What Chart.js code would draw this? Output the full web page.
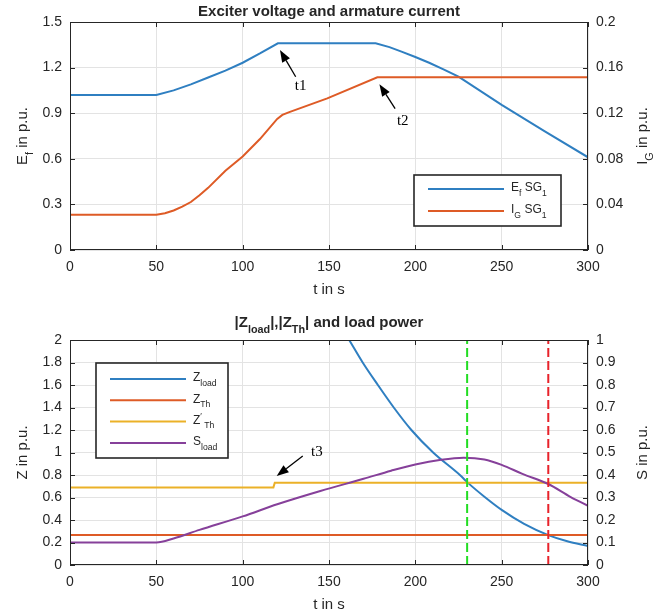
<!DOCTYPE html>
<html>
<head>
<meta charset="utf-8">
<script src="https://cdn.jsdelivr.net/npm/chart.js@4/dist/chart.umd.min.js"></script>
<style>
body { margin: 0; background: #fff; }
#wrap { position: relative; width: 665px; height: 614px; }
canvas { position: absolute; left: 0; }
</style>
</head>
<body>
<div id="wrap">
<canvas id="top" width="665" height="300" style="top:0"></canvas>
<canvas id="bot" width="665" height="314" style="top:300px"></canvas>
</div>
<script>
// ---- data ----
// upper plot: exciter voltage (left axis) and armature current (right axis)
const T_EF = [0, 50, 60, 70, 80, 90, 100, 110, 120.4, 177, 185, 192, 200, 208, 216, 225, 250, 275, 300];
const EF   = [1.02, 1.02, 1.05, 1.09, 1.135, 1.18, 1.232, 1.293, 1.36, 1.36, 1.335, 1.305, 1.27, 1.232, 1.19, 1.14, 0.955, 0.78, 0.61];
const T_IG = [0, 50, 55, 60, 65, 70, 75, 80, 90, 100, 110, 120, 123, 127, 149, 178, 300];
const IG   = [0.031, 0.031, 0.0322, 0.0347, 0.038, 0.0421, 0.048, 0.0545, 0.0695, 0.0821, 0.0973, 0.115, 0.1185, 0.121, 0.133, 0.1515, 0.1515];

// lower plot: impedances (left axis) and load power (right axis)
const T_ZLOAD = [161.7, 169.5, 178.3, 187.5, 197.7, 210.3, 225.8, 230.5, 240, 250, 263, 277, 288, 300];
const ZLOAD   = [2.0, 1.8, 1.6, 1.4, 1.2, 1.0, 0.8, 0.73, 0.607, 0.49, 0.366, 0.266, 0.211, 0.169];
const T_ZTH = [0, 300];
const ZTH   = [0.267, 0.267];
const T_ZTH2 = [0, 117.8, 118.6, 300];
const ZTH2   = [0.69, 0.69, 0.732, 0.732];
const T_SLOAD = [0, 50, 60, 75, 100, 120, 145, 170, 186, 200, 215, 228, 240, 250, 262, 277, 290, 300];
const SLOAD   = [0.1, 0.1, 0.118, 0.156, 0.216, 0.27, 0.329, 0.383, 0.419, 0.447, 0.468, 0.477, 0.469, 0.445, 0.405, 0.36, 0.302, 0.263];
const T_MARK = [230, 277];   // green and red dashed lines

// annotation arrows: [tailT, tailV, tipT, tipV, labelT, labelV, text]
const ARROWS_TOP = [[130.7, 1.14, 121.6, 1.315, 133.6, 1.08, 't1'],
                    [188.3, 0.93, 179.2, 1.09, 192.7, 0.845, 't2']];
const ARROWS_BOT = [[134.8, 0.969, 119.7, 0.791, 143, 1.0, 't3']];

const FONT = "'Liberation Sans', Arial, Helvetica, sans-serif";
const SERIF = "'Liberation Serif', 'Times New Roman', serif";
const INK = '#262626';
const GRID = '#e3e3e3';
const BLUE = '#2f7fc1', ORANGE = '#de5b26', YELLOW = '#ebb128', PURPLE = '#86409a';

const pts = (xs, ys) => xs.map((x, i) => ({x: x, y: ys[i]}));
const fmt = v => String(+(+v).toFixed(2));

// draw text with subscripts / superscripts, y is the middle of the text
function drawRich(ctx, parts, x, y, size, weight, align) {
    let w = 0;
    const items = parts.map(p => {
        const s = p[1] ? size * 0.72 : size;
        ctx.font = weight + ' ' + s + 'px ' + FONT;
        const m = ctx.measureText(p[0]).width;
        w += m;
        return {t: p[0], s: s, m: m, dy: p[1] === 'sub' ? size * 0.38 : p[1] === 'sup' ? -size * 0.42 : 0};
    });
    let cx = align === 'center' ? x - w / 2 : x;
    ctx.textAlign = 'left';
    ctx.textBaseline = 'alphabetic';
    items.forEach(it => {
        ctx.font = weight + ' ' + it.s + 'px ' + FONT;
        ctx.fillText(it.t, cx, y + size * 0.36 + it.dy);
        cx += it.m;
    });
}

function drawArrow(ctx, x0, y0, x1, y1) {
    const ang = Math.atan2(y1 - y0, x1 - x0), L = 12, H = 4.5;
    const bx = x1 - L * Math.cos(ang), by = y1 - L * Math.sin(ang);
    ctx.beginPath();
    ctx.moveTo(x0, y0);
    ctx.lineTo(bx, by);
    ctx.lineWidth = 1.3;
    ctx.stroke();
    ctx.beginPath();
    ctx.moveTo(x1, y1);
    ctx.lineTo(bx + H * Math.sin(ang), by - H * Math.cos(ang));
    ctx.lineTo(bx - H * Math.sin(ang), by + H * Math.cos(ang));
    ctx.closePath();
    ctx.fill();
}

function decor(o) {
    return {
        id: 'decor',
        afterDraw(chart) {
            const ctx = chart.ctx, a = chart.chartArea;
            const sx = chart.scales.x, sl = chart.scales.y, sr = chart.scales.y1;
            ctx.save();
            // box and inward ticks
            ctx.strokeStyle = INK;
            ctx.lineWidth = 1;
            ctx.strokeRect(a.left + 0.5, a.top + 0.5, a.right - a.left - 1, a.bottom - a.top - 1);
            ctx.beginPath();
            sx.ticks.forEach(t => {
                const p = Math.round(sx.getPixelForValue(t.value)) + 0.5;
                ctx.moveTo(p, a.bottom); ctx.lineTo(p, a.bottom - 5);
                ctx.moveTo(p, a.top); ctx.lineTo(p, a.top + 5);
            });
            sl.ticks.forEach(t => {
                const p = Math.round(sl.getPixelForValue(t.value)) + 0.5;
                ctx.moveTo(a.left, p); ctx.lineTo(a.left + 5, p);
            });
            sr.ticks.forEach(t => {
                const p = Math.round(sr.getPixelForValue(t.value)) + 0.5;
                ctx.moveTo(a.right, p); ctx.lineTo(a.right - 5, p);
            });
            ctx.stroke();

            ctx.fillStyle = INK;
            // title
            drawRich(ctx, o.title, (a.left + a.right) / 2, a.top - o.titleGap, 15, 'bold', 'center');
            // x label
            drawRich(ctx, [['t in s']], (a.left + a.right) / 2, a.bottom + 39, 15, 'normal', 'center');
            // y labels
            [[o.yl, 22], [o.yr, 642]].forEach(l => {
                ctx.save();
                ctx.translate(l[1], (a.top + a.bottom) / 2);
                ctx.rotate(-Math.PI / 2);
                drawRich(ctx, l[0], 0, 0, 15, 'normal', 'center');
                ctx.restore();
            });

            // legend
            const lg = o.legend;
            ctx.fillStyle = '#fff';
            ctx.fillRect(lg.x, lg.y, lg.w, lg.h);
            ctx.strokeStyle = INK;
            ctx.lineWidth = 1.6;
            ctx.strokeRect(lg.x, lg.y, lg.w, lg.h);
            lg.items.forEach((it, i) => {
                const yy = lg.y + lg.first + i * lg.step;
                ctx.strokeStyle = it[0];
                ctx.lineWidth = 2;
                ctx.beginPath();
                ctx.moveTo(lg.x + 14, yy);
                ctx.lineTo(lg.x + 90, yy);
                ctx.stroke();
                ctx.fillStyle = INK;
                drawRich(ctx, it[1], lg.x + 97, yy - 2, 12, 'normal', 'left');
            });

            // arrows
            ctx.fillStyle = '#000';
            ctx.strokeStyle = '#000';
            o.arrows.forEach(ar => {
                drawArrow(ctx, sx.getPixelForValue(ar[0]), sl.getPixelForValue(ar[1]),
                          sx.getPixelForValue(ar[2]), sl.getPixelForValue(ar[3]));
                ctx.font = '15px ' + SERIF;
                ctx.textAlign = 'center';
                ctx.textBaseline = 'middle';
                ctx.fillText(ar[6], sx.getPixelForValue(ar[4]), sl.getPixelForValue(ar[5]));
            });
            ctx.restore();
        }
    };
}

function scales(yMax, yStep, y1Max, y1Step, xh) {
    const tf = {family: FONT, size: 14};
    return {
        x: {type: 'linear', min: 0, max: 300,
            ticks: {stepSize: 50, color: INK, font: tf, padding: 9, maxRotation: 0},
            grid: {color: GRID, drawTicks: false}, border: {display: false},
            afterFit: s => { s.height = xh; }},
        y: {position: 'left', min: 0, max: yMax,
            ticks: {stepSize: yStep, color: INK, font: tf, padding: 8, callback: fmt},
            grid: {color: GRID, drawTicks: false}, border: {display: false},
            afterFit: s => { s.width = 70; }},
        y1: {position: 'right', min: 0, max: y1Max,
             ticks: {stepSize: y1Step, color: INK, font: tf, padding: 8, callback: fmt},
             grid: {display: false, drawTicks: false}, border: {display: false},
             afterFit: s => { s.width = 77; }}
    };
}

function line(data, color, axis, order, extra) {
    return Object.assign({data: data, borderColor: color, borderWidth: 2, pointRadius: 0,
                          fill: false, tension: 0, yAxisID: axis, order: order}, extra || {});
}

new Chart(document.getElementById('top'), {
    type: 'line',
    data: {datasets: [
        line(pts(T_IG, IG), ORANGE, 'y1', 0),
        line(pts(T_EF, EF), BLUE, 'y', 1)
    ]},
    options: {
        responsive: false, animation: false,
        layout: {padding: {top: 22, left: 0, right: 0, bottom: 0}},
        plugins: {legend: {display: false}, tooltip: {enabled: false}},
        scales: scales(1.5, 0.3, 0.2, 0.04, 50)
    },
    plugins: [decor({
        title: [['Exciter voltage and armature current']], titleGap: 11,
        yl: [['E'], ['f', 'sub'], [' in p.u.']],
        yr: [['I'], ['G', 'sub'], [' in p.u.']],
        legend: {x: 414, y: 175, w: 147, h: 51, first: 14, step: 22,
                 items: [[BLUE, [['E'], ['f', 'sub'], [' SG'], ['1', 'sub']]],
                         [ORANGE, [['I'], ['G', 'sub'], [' SG'], ['1', 'sub']]]]},
        arrows: ARROWS_TOP
    })]
});

const marks = T_MARK.map((t, i) => line([{x: t, y: 0}, {x: t, y: 2}], i === 0 ? '#22dd22' : '#e8222a', 'y', 0,
                                        {borderDash: [9, 4]}));

new Chart(document.getElementById('bot'), {
    type: 'line',
    data: {datasets: marks.concat([
        line(pts(T_SLOAD, SLOAD), PURPLE, 'y1', 1, {cubicInterpolationMode: 'monotone'}),
        line(pts(T_ZTH2, ZTH2), YELLOW, 'y', 2),
        line(pts(T_ZTH, ZTH), ORANGE, 'y', 3),
        line(pts(T_ZLOAD, ZLOAD), BLUE, 'y', 4, {cubicInterpolationMode: 'monotone'})
    ])},
    options: {
        responsive: false, animation: false,
        layout: {padding: {top: 40, left: 0, right: 0, bottom: 0}},
        plugins: {legend: {display: false}, tooltip: {enabled: false}},
        scales: scales(2, 0.2, 1, 0.1, 49)
    },
    plugins: [decor({
        title: [['|Z'], ['load', 'sub'], ['|,|Z'], ['Th', 'sub'], ['| and load power']], titleGap: 18,
        yl: [['Z in p.u.']],
        yr: [['S in p.u.']],
        legend: {x: 96, y: 63, w: 132, h: 95, first: 16, step: 21.3,
                 items: [[BLUE, [['Z'], ['load', 'sub']]],
                         [ORANGE, [['Z'], ['Th', 'sub']]],
                         [YELLOW, [['Z'], ['\u2032', 'sup'], [' Th', 'sub']]],
                         [PURPLE, [['S'], ['load', 'sub']]]]},
        arrows: ARROWS_BOT
    })]
});
</script>
</body>
</html>
